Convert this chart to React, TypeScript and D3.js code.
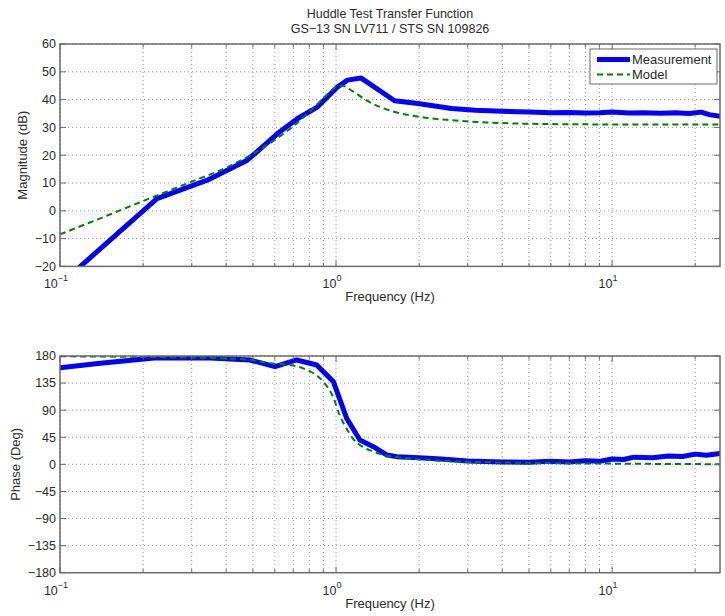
import React from 'react';
import * as d3 from 'd3';

// ---- data ----
const magFreqMeas = [0.117, 0.2246, 0.3415, 0.477, 0.614, 0.726, 0.858, 1.014, 1.1, 1.23, 1.63, 1.98, 2.62, 3.2, 4.0, 5.0, 6.0, 7.0, 8.0, 9.0, 10.0, 11.5, 13, 15, 17, 19, 21, 22.5, 24.6];
const magMeas = [-20.5, 4.4, 11, 18.2, 27.8, 33.2, 37.4, 44.6, 47, 47.8, 39.6, 38.6, 36.8, 36.2, 35.8, 35.5, 35.3, 35.4, 35.2, 35.3, 35.5, 35.2, 35.3, 35.1, 35.3, 35.0, 35.5, 34.6, 34.0];
const magFreqModel = [0.1, 0.15, 0.2, 0.3, 0.4, 0.5, 0.6, 0.7, 0.8, 0.9, 1.0, 1.05, 1.15, 1.3, 1.6, 2.0, 2.6, 3.5, 5, 8, 12, 24.6];
const magModel = [-8.5, -1.5, 3.5, 10.5, 15.5, 20.5, 25.5, 30.5, 35.5, 40.5, 44.5, 45, 43, 39.5, 35.8, 33.8, 32.6, 31.8, 31.3, 31.1, 31.0, 31.0];
const phFreqMeas = [0.1, 0.14, 0.224, 0.35, 0.488, 0.601, 0.72, 0.851, 0.978, 1.093, 1.22, 1.365, 1.53, 1.66, 2.0, 2.4, 3.0, 4, 5, 6, 7, 8, 9, 10, 11, 12, 14, 16, 18, 20, 22, 24.6];
const phMeas = [160.6, 167.8, 177.2, 176.5, 173.4, 162.3, 173.4, 165, 137.4, 76.4, 40.4, 29.4, 15.5, 12.8, 11, 9, 5.5, 4, 3.5, 5, 4, 6, 5, 9, 8, 12, 11, 14, 13, 17, 15, 18];
const phFreqModel = [0.1, 0.2, 0.3, 0.4, 0.5, 0.576, 0.68, 0.76, 0.83, 0.9, 0.98, 1.03, 1.09, 1.15, 1.25, 1.37, 1.49, 1.75, 2.2, 2.58, 3.5, 5, 8, 12, 18, 24.6];
const phModel = [179.5, 178.5, 177.5, 176, 173, 168, 165, 159.5, 151, 137, 110, 82, 60, 43, 29, 21, 15.5, 11, 7, 5, 3.5, 2.5, 1.5, 1, 0.5, 0.3];
const magTicks = [-20, -10, 0, 10, 20, 30, 40, 50, 60];
const phaseTicks = [-180, -135, -90, -45, 0, 45, 90, 135, 180];
const decades = [0.1, 1, 10];
const decadeExp = ['\u22121', '0', '1'];
const titleLines = ['Huddle Test Transfer Function', 'GS\u221213 SN LV711 / STS SN 109826'];
const legendNames = ['Measurement', 'Model'];

const FONT = '"Liberation Sans", Arial, Helvetica, sans-serif';
const X0 = 60, X1 = 720;
const XMAX = 24.6;
const BLUE = '#0000ff';
const GREEN = '#008000';
const AXIS = '#6a6a6a';
const TXT = '#2b2b2b';

const fmt = (v: number) => (v < 0 ? '\u2212' + Math.abs(v) : String(v));

function Panel(props: {
  id: string; top: number; bottom: number; yDomain: [number, number]; yTicks: number[]; yLabel: string; yLabelX: number;
  measF: number[]; meas: number[]; modF: number[]; model: number[]; legend?: boolean;
}) {
  const { id, top, bottom, yDomain, yTicks, yLabel, yLabelX, measF, meas, modF, model, legend } = props;
  const x = d3.scaleLog().domain([0.1, XMAX]).range([X0, X1]);
  const y = d3.scaleLinear().domain(yDomain).range([bottom, top]);
  const minor: number[] = [];
  decades.forEach((d) => {
    for (let k = 1; k <= 9; k++) {
      const v = k * d;
      if (v <= XMAX * 1.0001) minor.push(v);
    }
  });
  const lineMeas = d3.line<number>().x((_, i) => x(measF[i])).y((v) => y(v)).curve(d3.curveLinear);
  const lineModel = d3.line<number>().x((_, i) => x(modF[i])).y((v) => y(v)).curve(d3.curveMonotoneX);
  const tl = 6;
  return (
    <g>
      <defs>
        <clipPath id={id}>
          <rect x={X0} y={top} width={X1 - X0} height={bottom - top} />
        </clipPath>
      </defs>
      <rect x={X0} y={top} width={X1 - X0} height={bottom - top} fill="#fff" />
      {/* grid */}
      {minor.map((v, i) => (
        <line key={'gx' + i} x1={x(v)} x2={x(v)} y1={top} y2={bottom} stroke="#8a8a8a" strokeWidth={0.9} strokeDasharray="1 3" />
      ))}
      {yTicks.map((v, i) => (
        <line key={'gy' + i} x1={X0} x2={X1} y1={y(v)} y2={y(v)} stroke="#8a8a8a" strokeWidth={0.9} strokeDasharray="1 3" />
      ))}
      {/* data */}
      <g clipPath={`url(#${id})`}>
        <path d={lineMeas(meas) || ''} fill="none" stroke={BLUE} strokeWidth={5} strokeLinejoin="round" strokeLinecap="round" />
        <path d={lineModel(model) || ''} fill="none" stroke={GREEN} strokeWidth={2} strokeDasharray="6 4" />
      </g>
      {/* ticks */}
      {minor.map((v, i) => {
        const len = decades.includes(v) ? tl : tl * 0.6;
        return (
          <g key={'tx' + i}>
            <line x1={x(v)} x2={x(v)} y1={bottom} y2={bottom - len} stroke={AXIS} strokeWidth={1} />
            <line x1={x(v)} x2={x(v)} y1={top} y2={top + len} stroke={AXIS} strokeWidth={1} />
          </g>
        );
      })}
      {yTicks.map((v, i) => (
        <g key={'ty' + i}>
          <line x1={X0} x2={X0 + tl} y1={y(v)} y2={y(v)} stroke={AXIS} strokeWidth={1} />
          <line x1={X1} x2={X1 - tl} y1={y(v)} y2={y(v)} stroke={AXIS} strokeWidth={1} />
          <text x={X0 - 4} y={y(v)} dy="0.35em" textAnchor="end" fontSize={12.5} fill={TXT} fontFamily={FONT}>{fmt(v)}</text>
        </g>
      ))}
      <rect x={X0} y={top} width={X1 - X0} height={bottom - top} fill="none" stroke={AXIS} strokeWidth={1.5} />
      {decades.map((d, i) => (
        <text key={'xl' + i} x={x(d) - 4} y={bottom + 22} textAnchor="middle" fontSize={12.5} fill={TXT} fontFamily={FONT}>
          10<tspan dy={-7} fontSize={9}>{decadeExp[i]}</tspan>
        </text>
      ))}
      <text x={(X0 + X1) / 2} y={bottom + 35} textAnchor="middle" fontSize={13} fill={TXT} fontFamily={FONT}>Frequency (Hz)</text>
      <text transform={`translate(${yLabelX},${(top + bottom) / 2}) rotate(-90)`} textAnchor="middle" fontSize={13} fill={TXT} fontFamily={FONT}>{yLabel}</text>
      {legend && (
        <g>
          <rect x={590} y={49} width={127} height={35} fill="#fff" stroke={AXIS} strokeWidth={1} />
          <line x1={597} x2={630} y1={59.5} y2={59.5} stroke={BLUE} strokeWidth={5} />
          <line x1={597} x2={630} y1={74.5} y2={74.5} stroke={GREEN} strokeWidth={2} strokeDasharray="6 4" />
          <text x={632} y={59.5} dy="0.35em" fontSize={13} fill={TXT} fontFamily={FONT}>{legendNames[0]}</text>
          <text x={632} y={74.5} dy="0.35em" fontSize={13} fill={TXT} fontFamily={FONT}>{legendNames[1]}</text>
        </g>
      )}
    </g>
  );
}

export default function App() {
  return (
    <svg width={725} height={616} style={{ position: 'absolute', left: 0, top: 0, background: '#fff' }} xmlns="http://www.w3.org/2000/svg">
      <rect width={725} height={616} fill="#fff" />
      {titleLines.map((t, i) => (
        <text key={i} x={390} y={18 + i * 15} textAnchor="middle" fontSize={12.5} fill={TXT} fontFamily={FONT}>{t}</text>
      ))}
      <Panel id="clipMag" top={44} bottom={266.4} yDomain={[-20, 60]} yTicks={magTicks} yLabel="Magnitude (dB)" yLabelX={27}
        measF={magFreqMeas} meas={magMeas} modF={magFreqModel} model={magModel} legend />
      <Panel id="clipPh" top={356} bottom={572.7} yDomain={[-180, 180]} yTicks={phaseTicks} yLabel="Phase (Deg)" yLabelX={20}
        measF={phFreqMeas} meas={phMeas} modF={phFreqModel} model={phModel} />
    </svg>
  );
}
